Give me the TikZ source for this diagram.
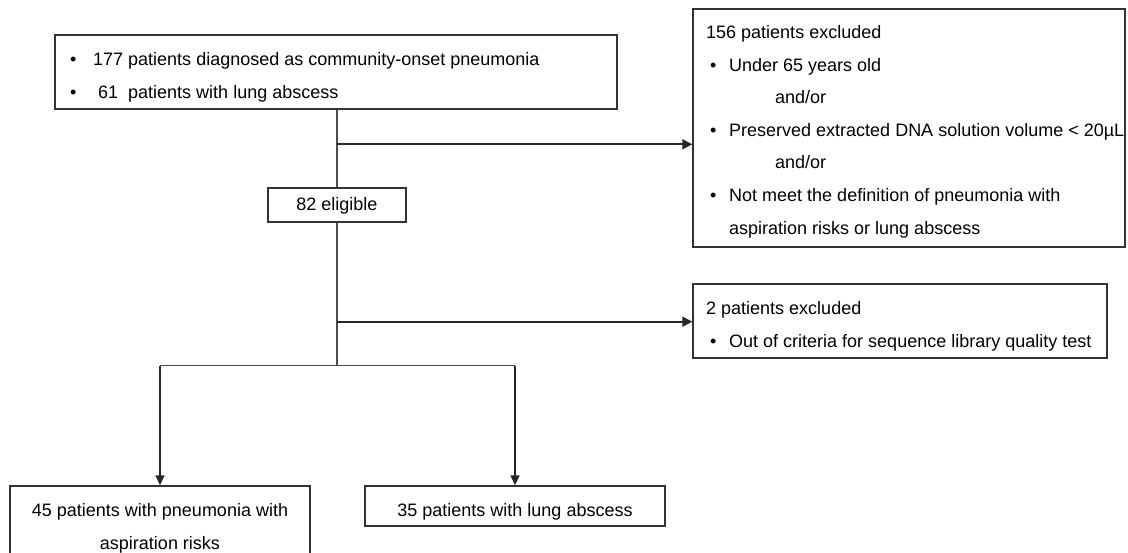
\documentclass[tikz,border=0pt]{standalone}
\usepackage{fontspec}
\setmainfont{Liberation Sans}
\usetikzlibrary{arrows.meta,calc}
\begin{document}
\begin{tikzpicture}[x=1pt,y=-1pt,
  box/.style={draw=black!80,line width=1.4pt,rectangle,inner sep=0pt},
  txt/.style={anchor=base west,inner sep=0pt,font=\fontsize{18}{21}\selectfont,text=black},
  ctxt/.style={anchor=base,inner sep=0pt,font=\fontsize{18}{21}\selectfont,text=black},
  thin/.style={draw=black!70,line width=1.1pt},
  arr/.style={draw=black!85,line width=2pt,-{Triangle[length=10pt,width=10pt]}},
  darr/.style={draw=black!85,line width=1.6pt,-{Triangle[length=10pt,width=9pt]}}]
\useasboundingbox (0,0) rectangle (1128,553);
\fill[white] (0,0) rectangle (1128,553);
% boxes
\node[box,minimum width=562pt,minimum height=74pt] (top) at (336,72) {};
\node[box,minimum width=432pt,minimum height=238pt] (ex1) at (909,128) {};
\node[box,minimum width=138pt,minimum height=34pt] (elig) at (337,205) {};
\node[box,minimum width=414pt,minimum height=74pt] (ex2) at (900,321) {};
\node[box,minimum width=300pt,minimum height=86pt] (g1) at (160,529) {};
\node[box,minimum width=300pt,minimum height=40pt] (g2) at (515,506) {};
% top text
\node[txt] (t1b) at (70,66) {•};
\node[txt] (t1) at (93,66) {177 patients diagnosed as community-onset pneumonia};
\node[txt] (t2b) at (70,99) {•};
\node[txt] (t2) at (98,99) {61\ \ patients with lung abscess};
% exclusion 1 text
\node[txt] (e0) at (706,39) {156 patients excluded};
\node[txt] (e1b) at (710,72) {•};
\node[txt] (e1) at (729,72) {Under 65 years old};
\node[txt] (e2) at (775,104) {and/or};
\node[txt] (e3b) at (710,137) {•};
\node[txt] (e3) at (729,137) {Preserved extracted DNA solution volume < 20µL};
\node[txt] (e4) at (775,169) {and/or};
\node[txt] (e5b) at (710,202) {•};
\node[txt] (e5) at (729,202) {Not meet the definition of pneumonia with};
\node[txt] (e6) at (729,235) {aspiration risks or lung abscess};
% eligible
\node[ctxt] (el) at (337,211) {82 eligible};
% exclusion 2
\node[txt] (f0) at (706,315) {2 patients excluded};
\node[txt] (f1b) at (710,348) {•};
\node[txt] (f1) at (729,348) {Out of criteria for sequence library quality test};
% groups
\node[ctxt] (ga) at (160,516) {45 patients with pneumonia with};
\node[ctxt] (gb) at (160,549) {aspiration risks};
\node[ctxt] (gc) at (515,516) {35 patients with lung abscess};
% connectors
\coordinate (j1) at ($(elig.north)+(0,-43)$);
\coordinate (j2) at ($(elig.south)+(0,99)$);
\coordinate (sp) at ($(elig.south)+(0,143)$);
\draw[thin] (elig.north |- top.south) -- (elig.north);
\draw[thin] (elig.south) -- (sp);
\draw[arr] (j1) -- (j1 -| ex1.west);
\draw[arr] (j2) -- (j2 -| ex2.west);
\draw[thin] (sp -| g1.north) -- (sp -| g2.north);
\draw[darr] (sp -| g1.north) -- (g1.north);
\draw[darr] (sp -| g2.north) -- (g2.north);
\end{tikzpicture}
\end{document}
